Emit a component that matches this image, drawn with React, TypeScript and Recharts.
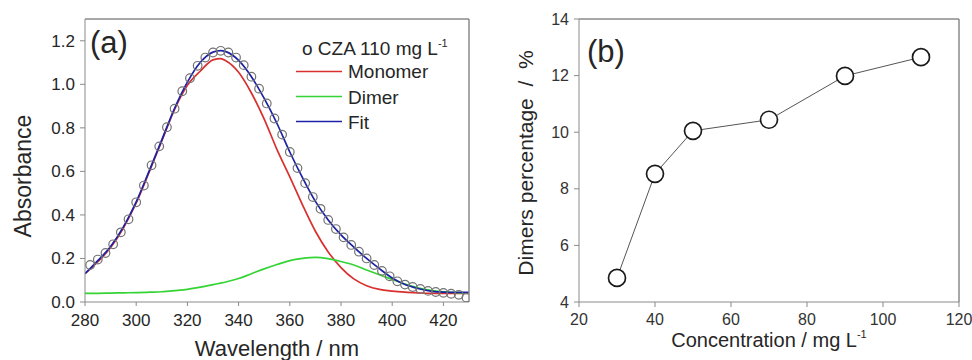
import React from 'react'
import { ComposedChart, LineChart, Line, Scatter, XAxis, YAxis } from 'recharts'

const FONT = '"Liberation Sans", Arial, sans-serif'
const axisGray = '#8a8a8a'
const textDark = '#262626'

// (a) measured spectrum of CZA 110 mg/L (open circles)
const measuredWl = [282, 285, 288, 291, 294, 297, 300, 303, 306, 309, 312, 315, 318, 321, 324, 327, 330, 333, 336, 339, 342, 345, 348, 351, 354, 357, 360, 363, 366, 369, 372, 375, 378, 381, 384, 387, 390, 393, 396, 399, 402, 405, 408, 411, 414, 417, 420, 423, 426, 429]
const measuredAbs = [0.17, 0.195, 0.225, 0.265, 0.32, 0.38, 0.458, 0.535, 0.628, 0.715, 0.803, 0.888, 0.968, 1.028, 1.085, 1.123, 1.146, 1.154, 1.146, 1.123, 1.088, 1.035, 0.98, 0.912, 0.843, 0.769, 0.689, 0.615, 0.546, 0.482, 0.428, 0.377, 0.335, 0.297, 0.262, 0.231, 0.2, 0.17, 0.143, 0.118, 0.095, 0.08, 0.069, 0.06, 0.051, 0.046, 0.042, 0.038, 0.033, 0.02]

// (a) deconvolution curves
const fitWl = [280, 285, 290, 295, 300, 305, 310, 315, 320, 325, 330, 333, 335, 340, 345, 350, 355, 360, 365, 370, 375, 380, 385, 390, 395, 400, 405, 410, 415, 420, 425, 430]
const monomerAbs = [0.13, 0.185, 0.25, 0.34, 0.455, 0.595, 0.74, 0.885, 0.995, 1.06, 1.112, 1.118, 1.108, 1.055, 0.96, 0.84, 0.7, 0.575, 0.445, 0.325, 0.23, 0.158, 0.106, 0.075, 0.058, 0.05, 0.045, 0.042, 0.04, 0.04, 0.04, 0.04]
const dimerAbs = [0.04, 0.04, 0.041, 0.042, 0.043, 0.045, 0.047, 0.052, 0.058, 0.068, 0.08, 0.087, 0.092, 0.108, 0.13, 0.152, 0.172, 0.19, 0.2, 0.205, 0.199, 0.186, 0.17, 0.147, 0.125, 0.104, 0.082, 0.065, 0.054, 0.047, 0.043, 0.04]
const fitAbs = [0.13, 0.19, 0.255, 0.345, 0.46, 0.6, 0.745, 0.89, 1.01, 1.1, 1.148, 1.155, 1.15, 1.11, 1.035, 0.935, 0.82, 0.689, 0.57, 0.462, 0.377, 0.308, 0.252, 0.2, 0.153, 0.11, 0.08, 0.062, 0.05, 0.045, 0.044, 0.044]

const wlDomain = [280, 430]
const absDomain = [0, 1.3]
const wlTicks = [280, 300, 320, 340, 360, 380, 400, 420]
const absTicks = [0, 0.2, 0.4, 0.6, 0.8, 1.0, 1.2]

// (b) dimer share vs concentration
const concentration = [30, 40, 50, 70, 90, 110]
const dimerPct = [4.85, 8.53, 10.05, 10.44, 11.99, 12.65]
const concDomain = [20, 120]
const pctDomain = [4, 14]
const concTicks = [20, 40, 60, 80, 100, 120]
const pctTicks = [4, 6, 8, 10, 12, 14]

const curves = [
  { name: 'Monomer', values: monomerAbs, color: '#d8302f' },
  { name: 'Dimer', values: dimerAbs, color: '#35d435' },
  { name: 'Fit', values: fitAbs, color: '#1c22a6' },
]

const measured = measuredWl.map((wl, i) => ({ wl, a: measuredAbs[i] }))
const pctData = concentration.map((c, i) => ({ c, p: dimerPct[i] }))

// plot boxes (chart-local px); margins and axis sizes are derived from these.
// the top and right axes take 1px each, hence the -1 in the margins
const boxA = { w: 480, h: 360, left: 85, top: 19, right: 469, bottom: 302 }
const boxB = { w: 492, h: 360, left: 99, top: 19, right: 479, bottom: 302 }

function xTitle(text: string, sup: string | null, size: number, baseline: number) {
  return (props: any) => {
    const vb = props.viewBox
    return (
      <text x={vb.x + vb.width / 2} y={baseline} textAnchor="middle" fontSize={size} fontFamily={FONT} fill={textDark}>
        {text}
        {sup && (
          <tspan dy={-size * 0.45} fontSize={size * 0.55}>
            {sup}
          </tspan>
        )}
      </text>
    )
  }
}

function yTitle(text: string, size: number, x: number, y: number) {
  return () => (
    <text transform={`translate(${x},${y}) rotate(-90)`} textAnchor="middle" fontSize={size} fontFamily={FONT} fill={textDark}>
      {text}
    </text>
  )
}

// fallback drawing of the top/right frame edges, same place as the mirror axes
function Frame({ box }: { box: typeof boxA }) {
  return (
    <>
      <line x1={box.left} x2={box.right} y1={box.top} y2={box.top} stroke={axisGray} strokeWidth={1} />
      <line x1={box.right} x2={box.right} y1={box.top} y2={box.bottom} stroke={axisGray} strokeWidth={1} />
    </>
  )
}

function SpectrumPanel() {
  const tickStyle = { fontSize: 17, fill: textDark, fontFamily: FONT }
  return (
    <div style={{ position: 'absolute', left: 0, top: 0, width: boxA.w, height: boxA.h }}>
      <ComposedChart width={boxA.w} height={boxA.h} margin={{ top: boxA.top - 1, right: boxA.w - boxA.right - 1, bottom: 0, left: 0 }}>
        <XAxis
          dataKey="wl"
          type="number"
          domain={wlDomain}
          ticks={wlTicks}
          allowDataOverflow
          height={boxA.h - boxA.bottom}
          tickSize={4}
          tickMargin={8}
          tick={tickStyle}
          stroke={axisGray}
          label={{ content: xTitle('Wavelength / nm', null, 22, 356) }}
        />
        <XAxis
          xAxisId="top"
          dataKey="wl"
          orientation="top"
          type="number"
          domain={wlDomain}
          ticks={wlTicks.slice(1)}
          allowDataOverflow
          height={1}
          tick={false}
          tickSize={-4}
          stroke={axisGray}
        />
        <YAxis
          dataKey="a"
          type="number"
          domain={absDomain}
          ticks={absTicks}
          allowDataOverflow
          width={boxA.left}
          tickSize={5}
          tickMargin={5}
          tick={tickStyle}
          tickFormatter={(v: number) => v.toFixed(1)}
          stroke={axisGray}
          label={{ content: yTitle('Absorbance', 23, 31, 176) }}
        />
        <YAxis
          yAxisId="right"
          dataKey="a"
          orientation="right"
          type="number"
          domain={absDomain}
          allowDataOverflow
          width={1}
          tick={false}
          tickLine={false}
          stroke={axisGray}
        />
        <Scatter
          data={measured}
          isAnimationActive={false}
          shape={(p: any) => <circle cx={p.cx} cy={p.cy} r={4.3} fill="none" stroke="#737373" strokeWidth={1.2} />}
        />
        {curves.map((c) => (
          <Line
            key={c.name}
            data={fitWl.map((wl, i) => ({ wl, a: c.values[i] }))}
            dataKey="a"
            type="monotone"
            stroke={c.color}
            strokeWidth={1.7}
            dot={false}
            isAnimationActive={false}
          />
        ))}
        {/* invisible copy bound to the top/right axes so they get a domain */}
        <Line
          xAxisId="top"
          yAxisId="right"
          data={fitWl.map((wl, i) => ({ wl, a: fitAbs[i] }))}
          dataKey="a"
          stroke="none"
          dot={false}
          activeDot={false}
          legendType="none"
          isAnimationActive={false}
        />
      </ComposedChart>
      <svg width={boxA.w} height={boxA.h} style={{ position: 'absolute', left: 0, top: 0, pointerEvents: 'none' }}>
        <Frame box={boxA} />
        <text x={90} y={53} fontSize={31} fontFamily={FONT} fill={textDark}>(a)</text>
        <text x={302} y={55} fontSize={19} fontFamily={FONT} fill={textDark}>
          o CZA 110 mg L<tspan dy={-8} fontSize={11}>-1</tspan>
        </text>
        {curves.map((c, i) => (
          <g key={c.name}>
            <line x1={296} x2={342} y1={71.5 + i * 25} y2={71.5 + i * 25} stroke={c.color} strokeWidth={1.7} />
            <text x={348} y={78 + i * 25.5} fontSize={19} fontFamily={FONT} fill={textDark}>{c.name}</text>
          </g>
        ))}
      </svg>
    </div>
  )
}

function PercentPanel() {
  const tickStyle = { fontSize: 16, fill: '#333', fontFamily: FONT }
  return (
    <div style={{ position: 'absolute', left: 480, top: 0, width: boxB.w, height: boxB.h }}>
      <LineChart width={boxB.w} height={boxB.h} data={pctData} margin={{ top: boxB.top - 1, right: boxB.w - boxB.right - 1, bottom: 0, left: 0 }}>
        <XAxis
          dataKey="c"
          type="number"
          domain={concDomain}
          ticks={concTicks}
          allowDataOverflow
          height={boxB.h - boxB.bottom}
          tickSize={5}
          tickMargin={7}
          tick={tickStyle}
          stroke={axisGray}
          label={{ content: xTitle('Concentration / mg L', '-1', 20, 347) }}
        />
        <XAxis xAxisId="top" dataKey="c" orientation="top" type="number" domain={concDomain} allowDataOverflow height={1} tick={false} tickLine={false} stroke={axisGray} />
        <YAxis
          dataKey="p"
          type="number"
          domain={pctDomain}
          ticks={pctTicks}
          allowDataOverflow
          width={boxB.left}
          tickSize={5}
          tickMargin={5}
          tick={tickStyle}
          stroke={axisGray}
          label={{ content: yTitle('Dimers percentage\u00a0 /\u00a0 %', 21, 52.5, 163) }}
        />
        <YAxis yAxisId="right" dataKey="p" orientation="right" type="number" domain={pctDomain} allowDataOverflow width={1} tick={false} tickLine={false} stroke={axisGray} />
        <Line
          dataKey="p"
          type="linear"
          stroke="#555"
          strokeWidth={1}
          isAnimationActive={false}
          dot={(p: any) => <circle key={p.index} cx={p.cx} cy={p.cy} r={8.5} fill="#fff" stroke="#1a1a1a" strokeWidth={1.7} />}
        />
        <Line xAxisId="top" yAxisId="right" dataKey="p" stroke="none" dot={false} activeDot={false} legendType="none" isAnimationActive={false} />
      </LineChart>
      <svg width={boxB.w} height={boxB.h} style={{ position: 'absolute', left: 0, top: 0, pointerEvents: 'none' }}>
        <Frame box={boxB} />
        <text x={107} y={62} fontSize={31} fontFamily={FONT} fill={textDark}>(b)</text>
      </svg>
    </div>
  )
}

export default function App() {
  return (
    <div style={{ position: 'absolute', left: 0, top: 0, width: 972, height: 360, background: '#fff', fontFamily: FONT }}>
      <SpectrumPanel />
      <PercentPanel />
    </div>
  )
}
